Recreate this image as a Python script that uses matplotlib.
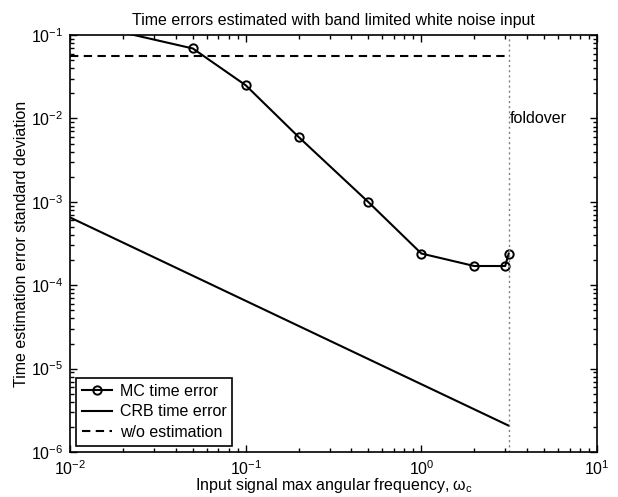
import numpy as np
import matplotlib
matplotlib.use("Agg")
import matplotlib.pyplot as plt

plt.rcParams["font.family"] = ["Liberation Sans", "DejaVu Sans"]
plt.rcParams["font.size"] = 11.5
plt.rcParams["mathtext.fontset"] = "custom"
plt.rcParams["mathtext.rm"] = "Liberation Sans"
plt.rcParams["mathtext.it"] = "Liberation Sans"

# Data
mc_freq = [0.01, 0.05, 0.1, 0.2, 0.5, 1.0, 2.0, 3.0, np.pi]
mc_err = [0.15, 0.069, 0.025, 0.006, 0.00099, 0.00024, 0.00017, 0.00017, 0.00024]

crb_freq = [0.01, np.pi]
crb_err = [6.5e-4, 2.07e-6]

noest_freq = [0.01, np.pi]
noest_err = [0.056, 0.056]

foldover = np.pi

fig = plt.figure(figsize=(6.18, 4.97), dpi=100)
ax = fig.add_axes([0.1133, 0.0905, 0.8528, 0.839])

ax.plot(mc_freq, mc_err, color="black", lw=1.5, marker="o", ms=6,
        mfc="none", mew=1.4, label="MC time error")
ax.plot(crb_freq, crb_err, color="black", lw=1.5, label="CRB time error")
ax.plot(noest_freq, noest_err, color="black", lw=1.5, dashes=(4, 2.6),
        label="w/o estimation")
ax.plot([foldover, foldover], [1e-6, 1e-1], color="0.5", lw=1.0,
        dashes=(1.5, 2.2))
ax.text(foldover * 1.02, 0.01, "foldover", ha="left", va="center")

ax.set_xscale("log")
ax.set_yscale("log")
ax.set_xlim(1e-2, 1e1)
ax.set_ylim(1e-6, 1e-1)

ax.tick_params(which="both", direction="in", top=True, right=True, width=1)
ax.tick_params(which="major", length=5, labelsize=11.5, pad=5)
ax.tick_params(which="minor", length=3)
for s in ax.spines.values():
    s.set_linewidth(1.2)

ax.set_title("Time errors estimated with band limited white noise input",
             fontsize=11.5, pad=7)
ax.set_xlabel(r"Input signal max angular frequency, $\omega_c$", labelpad=-1)
ax.set_ylabel("Time estimation error standard deviation", labelpad=1)

leg = ax.legend(loc="lower left", borderaxespad=0.4, fancybox=False,
                framealpha=1, edgecolor="black", handlelength=1.9,
                borderpad=0.35, labelspacing=0.35, handletextpad=0.45)
leg.get_frame().set_linewidth(1.2)

fig.savefig("out.png", dpi=100)
